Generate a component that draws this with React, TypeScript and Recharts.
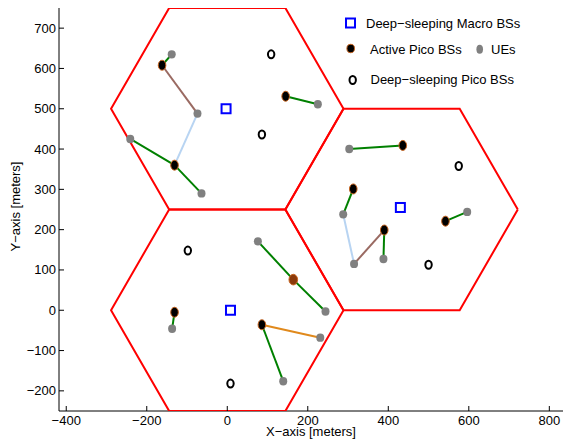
import React from "react";
import { ScatterChart, Scatter, XAxis, YAxis } from "recharts";

// cell layout (three hexagonal macro cells)
const cellCenters = [
  { x: 0, y: 0 },
  { x: 0, y: 500 },
  { x: 433, y: 250 },
];
const CELL_RADIUS = 288.7;

const macroBS = [
  { x: -3, y: 500 },
  { x: 430, y: 255 },
  { x: 8, y: 0 },
];

const activePico = [
  { x: -162, y: 608 },
  { x: -131, y: 360 },
  { x: 145, y: 531 },
  { x: 436, y: 409 },
  { x: 313, y: 301 },
  { x: 542, y: 221 },
  { x: 390, y: 199 },
  { x: -131, y: -5 },
  { x: 86, y: -36 },
];

const overloadedPico = [{ x: 164, y: 76 }];

const sleepingPico = [
  { x: 109, y: 635 },
  { x: 86, y: 436 },
  { x: 575, y: 358 },
  { x: 500, y: 113 },
  { x: -98, y: 148 },
  { x: 8, y: -182 },
];

const ues = [
  { x: -138, y: 635 },
  { x: -74, y: 488 },
  { x: -241, y: 425 },
  { x: -64, y: 290 },
  { x: 225, y: 511 },
  { x: 303, y: 400 },
  { x: 288, y: 238 },
  { x: 596, y: 244 },
  { x: 388, y: 127 },
  { x: 315, y: 115 },
  { x: 76, y: 171 },
  { x: 244, y: -3 },
  { x: -137, y: -46 },
  { x: 231, y: -68 },
  { x: 139, y: -176 },
];

type Pt = { x: number; y: number };

const greenLinks: [Pt, Pt][] = [
  [{ x: -162, y: 608 }, { x: -138, y: 635 }],
  [{ x: -131, y: 360 }, { x: -241, y: 425 }],
  [{ x: -131, y: 360 }, { x: -64, y: 290 }],
  [{ x: 145, y: 531 }, { x: 225, y: 511 }],
  [{ x: 303, y: 400 }, { x: 436, y: 409 }],
  [{ x: 313, y: 301 }, { x: 288, y: 238 }],
  [{ x: 390, y: 199 }, { x: 388, y: 127 }],
  [{ x: 542, y: 221 }, { x: 596, y: 244 }],
  [{ x: 76, y: 171 }, { x: 164, y: 76 }],
  [{ x: 164, y: 76 }, { x: 244, y: -3 }],
  [{ x: -131, y: -5 }, { x: -137, y: -46 }],
  [{ x: 86, y: -36 }, { x: 139, y: -176 }],
];
const brownLinks: [Pt, Pt][] = [
  [{ x: -162, y: 608 }, { x: -74, y: 488 }],
  [{ x: 315, y: 115 }, { x: 390, y: 199 }],
];
const blueLinks: [Pt, Pt][] = [
  [{ x: -74, y: 488 }, { x: -131, y: 360 }],
  [{ x: 288, y: 238 }, { x: 315, y: 115 }],
];
const orangeLinks: [Pt, Pt][] = [[{ x: 86, y: -36 }, { x: 231, y: -68 }]];

const xTicks = [-400, -200, 0, 200, 400, 600, 800];
const yTicks = [-200, -100, 0, 100, 200, 300, 400, 500, 600, 700];

const FONT = '"Liberation Sans", Arial, sans-serif';

const hexagon = (c: Pt) =>
  [0, 60, 120, 180, 240, 300, 360].map((a) => ({
    x: c.x + CELL_RADIUS * Math.cos((a * Math.PI) / 180),
    y: c.y + CELL_RADIUS * Math.sin((a * Math.PI) / 180),
  }));

const fmt = (v: number) => String(v).replace("-", "\u2212");

const XTick = (props: any) => {
  const { x, y, payload } = props;
  return (
    <g>
      <line x1={x} y1={y} x2={x} y2={y - 5} stroke="#000" />
      <text x={x} y={y + 14} textAnchor="middle" fontSize={13} fontFamily={FONT} fill="#000">
        {fmt(payload.value)}
      </text>
    </g>
  );
};

const YTick = (props: any) => {
  const { x, y, payload } = props;
  return (
    <g>
      <line x1={x} y1={y} x2={x + 5} y2={y} stroke="#000" />
      <text x={x - 3} y={y + 4.5} textAnchor="end" fontSize={13} fontFamily={FONT} fill="#000">
        {fmt(payload.value)}
      </text>
    </g>
  );
};

const noDot = () => <g />;

const ActiveDot = (p: any) => (
  <ellipse cx={p.cx} cy={p.cy} rx={3.8} ry={5} fill="#000" stroke="#c8641e" strokeWidth={1} />
);
const OverloadedDot = (p: any) => (
  <ellipse cx={p.cx} cy={p.cy} rx={4.3} ry={5.3} fill="#8b3a0c" stroke="#c8641e" strokeWidth={1} />
);
const SleepDot = (p: any) => (
  <ellipse cx={p.cx} cy={p.cy} rx={3.2} ry={4} fill="none" stroke="#000" strokeWidth={2} />
);
const UeDot = (p: any) => <ellipse cx={p.cx} cy={p.cy} rx={4} ry={4.2} fill="#808080" />;
const MacroDot = (p: any) => (
  <rect x={p.cx - 4.5} y={p.cy - 4.5} width={9} height={9} fill="none" stroke="#0000ff" strokeWidth={2} />
);

const linkGroups = [
  { links: greenLinks, color: "#008000" },
  { links: brownLinks, color: "#9a6a62" },
  { links: blueLinks, color: "#b8d4f2" },
  { links: orangeLinks, color: "#e0891c" },
];

function Legend() {
  const t = { fontSize: 13, fontFamily: FONT, fill: "#000" };
  return (
    <svg width={563} height={439} style={{ position: "absolute", left: 0, top: 0, pointerEvents: "none" }}>
      <rect x={346} y={18.5} width={9} height={9} fill="none" stroke="#0000ff" strokeWidth={2} />
      <text x={366} y={27.5} {...t}>Deep{"\u2212"}sleeping Macro BSs</text>
      <ellipse cx={350.7} cy={48.5} rx={3.8} ry={4.2} fill="#000" stroke="#c8641e" />
      <text x={370} y={53.5} {...t}>Active Pico BSs</text>
      <ellipse cx={479.7} cy={49.3} rx={3.3} ry={4.5} fill="#808080" />
      <text x={491} y={54} {...t}>UEs</text>
      <ellipse cx={352.7} cy={80} rx={3.2} ry={4} fill="none" stroke="#000" strokeWidth={2} />
      <text x={370.5} y={83.5} {...t}>Deep{"\u2212"}sleeping Pico BSs</text>
    </svg>
  );
}

export default function App() {
  return (
    <div style={{ position: "absolute", left: 0, top: 0, width: 563, height: 439, background: "#fff" }}>
      <ScatterChart width={563} height={439} margin={{ top: 8, right: 0, bottom: 0, left: 0 }}>
        <XAxis
          type="number"
          dataKey="x"
          domain={[-418, 834]}
          ticks={xTicks}
          allowDataOverflow
          height={28}
          tickSize={0}
          tickMargin={0}
          tick={<XTick />}
          axisLine={{ stroke: "#000" }}
          label={{
            content: (p: any) => (
              <text
                x={p.viewBox.x + p.viewBox.width / 2}
                y={p.viewBox.y + 25}
                textAnchor="middle"
                fontSize={13}
                fontFamily={FONT}
                fill="#000"
              >
                X{"\u2212"}axis [meters]
              </text>
            ),
          }}
        />
        <YAxis
          type="number"
          dataKey="y"
          domain={[-250, 750]}
          ticks={yTicks}
          allowDataOverflow
          width={59}
          tickSize={0}
          tickMargin={0}
          tick={<YTick />}
          axisLine={{ stroke: "#000" }}
          label={{
            content: (p: any) => {
              const cx = 17;
              const cy = p.viewBox.y + p.viewBox.height / 2 - 3;
              return (
                <text
                  x={cx}
                  y={cy}
                  transform={`rotate(-90 ${cx} ${cy})`}
                  textAnchor="middle"
                  dominantBaseline="middle"
                  fontSize={13}
                  fontFamily={FONT}
                  fill="#000"
                >
                  Y{"\u2212"}axis [meters]
                </text>
              );
            },
          }}
        />
        {cellCenters.map((c, i) => (
          <Scatter
            key={`cell-${i}`}
            data={hexagon(c)}
            line={{ stroke: "#ff0000", strokeWidth: 2 }}
            shape={noDot}
            isAnimationActive={false}
          />
        ))}
        {linkGroups.flatMap((g, gi) =>
          g.links.map((l, li) => (
            <Scatter
              key={`link-${gi}-${li}`}
              data={l}
              line={{ stroke: g.color, strokeWidth: 2 }}
              shape={noDot}
              isAnimationActive={false}
            />
          ))
        )}
        <Scatter data={ues} shape={UeDot} isAnimationActive={false} />
        <Scatter data={activePico} shape={ActiveDot} isAnimationActive={false} />
        <Scatter data={overloadedPico} shape={OverloadedDot} isAnimationActive={false} />
        <Scatter data={sleepingPico} shape={SleepDot} isAnimationActive={false} />
        <Scatter data={macroBS} shape={MacroDot} isAnimationActive={false} />
      </ScatterChart>
      <Legend />
    </div>
  );
}
